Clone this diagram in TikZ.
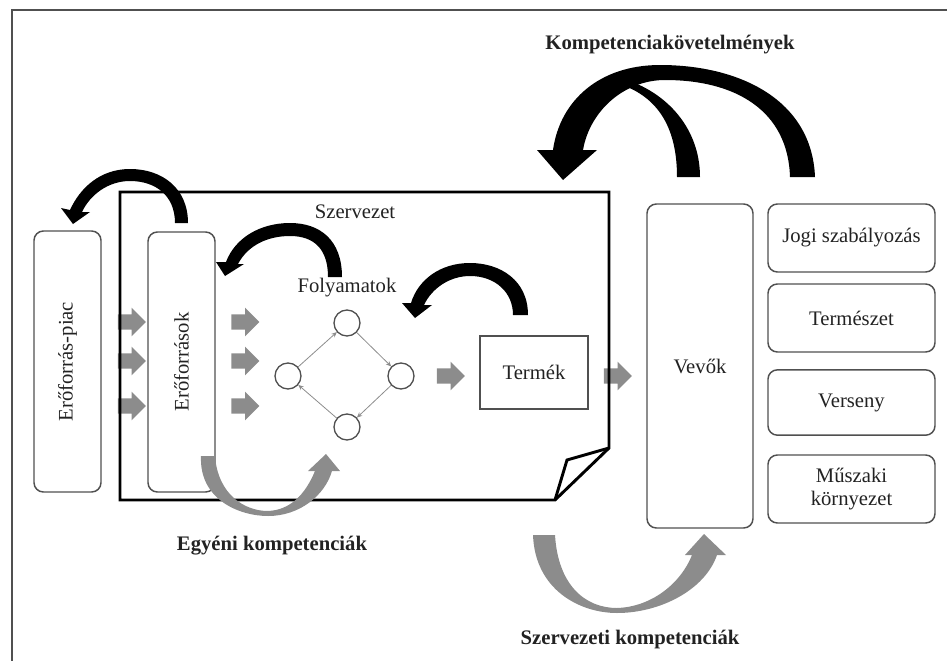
\documentclass[tikz,border=0pt]{standalone}
\usepackage{fontspec}
\setmainfont{Liberation Serif}
\usetikzlibrary{arrows.meta, shapes.arrows}

\definecolor{boxline}{HTML}{505050}
\definecolor{arrowgray}{HTML}{8C8C8C}
\definecolor{textdark}{HTML}{222222}

\begin{document}
\begin{tikzpicture}[x = 0.75pt, y = -0.75pt,
        every node/.style = {font = {\fontsize{15.5}{17}\selectfont}, text = textdark},
        boldtext/.style = {font = {\fontsize{15.5}{17}\selectfont\bfseries}},
        roundbox/.style = {draw = boxline, line width = 1.1pt, rounded corners = 7pt, inner sep = 0pt},
        sqbox/.style = {draw = boxline, line width = 1.1pt, inner sep = 0pt},
        procnode/.style = {circle, draw = boxline, line width = 1pt, minimum size = 19.5pt, inner sep = 0pt},
        flowline/.style = {draw = arrowgray, line width = 0.6pt, -{Stealth[length = 4pt, width = 3.5pt]}},
        grayarrow/.style = {single arrow, fill = arrowgray, draw = none, inner sep = 5.5pt,
            single arrow head extend = 5pt, single arrow head indent = 0pt, minimum height = 21pt},
        bigarrow/.style = {fill = black, draw = none},
        crescent/.style = {fill = arrowgray, draw = none}]

        \useasboundingbox (0,0) rectangle (947,661);
        \draw[boxline, line width = 1.2pt] (12,661) -- (12,10) -- (947,10);

        \node[roundbox, rotate = 90, minimum width = 195.75pt, minimum height = 50.25pt] (piac) at (67.5, 361.5) {Erőforrás-piac};

        \node[roundbox, rotate = 90, minimum width = 195pt, minimum height = 50.25pt] (eroforras) at (181.5, 362) {Erőforrások};

        \node (szervezet) at (355, 212) {Szervezet};

        \node (folyamatok) at (347, 288) {Folyamatok};

        \node[procnode] (pt) at (347, 323) {};
        \node[procnode] (pl) at (288, 376) {};
        \node[procnode] (pr) at (401, 376) {};
        \node[procnode] (pb) at (347, 427) {};

        \draw[flowline] (pl) -- (pt);
        \draw[flowline] (pt) -- (pr);
        \draw[flowline] (pr) -- (pb);
        \draw[flowline] (pb) -- (pl);

        \node[sqbox, minimum width = 81pt, minimum height = 54.75pt] (termek) at (534, 372.5) {Termék};

        \node[roundbox, minimum width = 79.5pt, minimum height = 243pt] (vevok) at (700, 366) {Vevők};

        \node[roundbox, minimum width = 125.25pt, minimum height = 51pt] (jogi) at (851.5, 238) {Jogi szabályozás};
        \node[roundbox, minimum width = 125.25pt, minimum height = 51pt] (termeszet) at (851.5, 318) {Természet};
        \node[roundbox, minimum width = 125.25pt, minimum height = 49pt] (verseny) at (851.5, 402.5) {Verseny};
        \node[roundbox, minimum width = 125.25pt, minimum height = 51pt, align = center] (muszaki) at (851.5, 489) {Műszaki\\környezet};

        \node[grayarrow] (ga1) at (128, 322) {};
        \node[grayarrow] (ga2) at (128, 361) {};
        \node[grayarrow] (ga3) at (128, 406) {};
        \node[grayarrow] (ga4) at (241.5, 322) {};
        \node[grayarrow] (ga5) at (241.5, 361) {};
        \node[grayarrow] (ga6) at (241.5, 406) {};
        \node[grayarrow] (ga7) at (447, 376) {};
        \node[grayarrow] (ga8) at (614, 376) {};

        % szervezet
        \draw[line width = 2.2pt, line join = miter] (120,192) -- (609,192) -- (609,448) -- (555,500) -- (120,500) -- cycle;
        \draw[line width = 2.2pt, line join = miter] (609,448) -- (567,460) -- (555,500);

        % fekete nyilak
        \fill[bigarrow] (188,223) .. controls (188,188) and (162,169) .. (130,169) .. controls (100,169) and (80,188) .. (70,210)
            -- (61,208) -- (73,224) -- (90,212) -- (82,212) .. controls (90,195) and (108,181) .. (130,181)
            .. controls (155,181) and (175,195) .. (175,223) -- cycle;

        \fill[bigarrow] (342,277) .. controls (342,240) and (320,223) .. (290,223) .. controls (260,223) and (235,238) .. (226,262)
            -- (216,262) -- (225,276) -- (244,264) -- (238,264) .. controls (248,245) and (268,236) .. (290,236)
            .. controls (315,236) and (328,250) .. (328,277) -- cycle;

        \fill[bigarrow] (528,315) .. controls (528,280) and (500,263) .. (470,263) .. controls (440,263) and (418,280) .. (411,303)
            -- (402,303) -- (415,318) -- (432,305) -- (424,305) .. controls (432,288) and (450,276) .. (470,276)
            .. controls (495,276) and (513,292) .. (513,315) -- cycle;

        \fill[bigarrow] (815,177) .. controls (812,100) and (740,65) .. (660,65) .. controls (600,65) and (560,100) .. (553,150)
            -- (537,150) -- (563,180) -- (597,150) -- (583,150) .. controls (590,110) and (625,80) .. (665,80)
            .. controls (735,80) and (788,110) .. (790,177) -- cycle;
        \fill[bigarrow] (677,177) .. controls (677,130) and (660,100) .. (625,86) -- (635,83)
            .. controls (675,100) and (700,135) .. (700,177) -- cycle;

        % szurke nyilak
        \fill[crescent] (201,456) .. controls (199,500) and (240,516) .. (268,516) .. controls (300,516) and (325,495) .. (332,471)
            -- (340,471) -- (326,454) -- (308,471) -- (315,471) .. controls (305,495) and (290,510) .. (268,511)
            .. controls (245,511) and (218,495) .. (215,456) -- cycle;

        \fill[crescent] (533,535) .. controls (535,590) and (580,613) .. (617,613) .. controls (660,613) and (705,590) .. (717,555)
            -- (726,555) -- (704,534) -- (685,555) -- (692,555) .. controls (680,585) and (650,607) .. (617,608)
            .. controls (585,608) and (558,585) .. (555,535) -- cycle;

        \node[boldtext] (kovetelmeny) at (670, 45) {Kompetenciakövetelmények};

        \node[boldtext] (egyeni) at (272, 546) {Egyéni kompetenciák};

        \node[boldtext] (szervezeti) at (630, 640) {Szervezeti kompetenciák};
    \end{tikzpicture}
\end{document}
